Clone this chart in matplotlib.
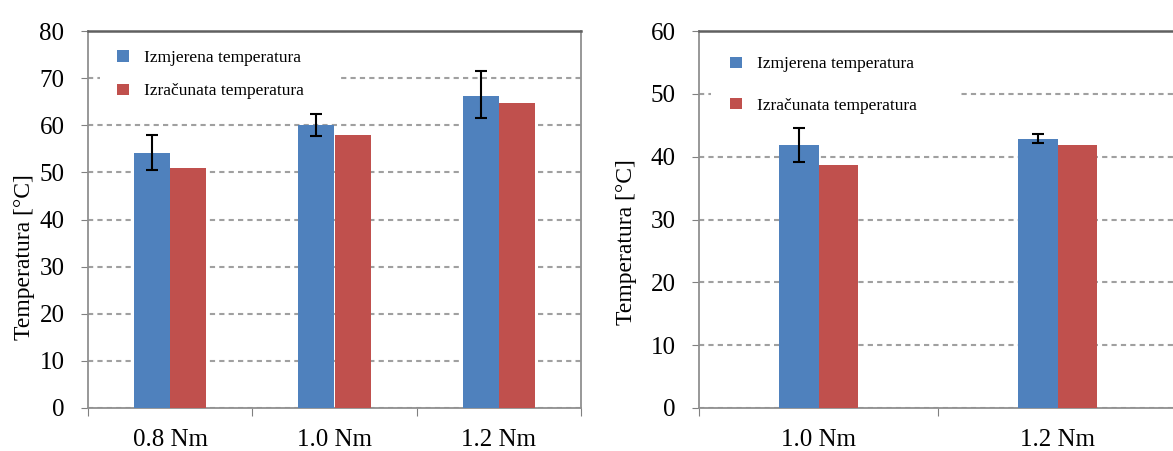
import matplotlib.pyplot as plt
from matplotlib.patches import Rectangle
import numpy as np

# left chart
cats_l = ['0.8 Nm', '1.0 Nm', '1.2 Nm']
meas_l = [54.2, 60.1, 66.2]
err_lo_l = [50.5, 57.8, 61.5]
err_hi_l = [58.0, 62.3, 71.5]
calc_l = [51.0, 58.0, 64.8]

# right chart
cats_r = ['1.0 Nm', '1.2 Nm']
meas_r = [41.8, 42.8]
err_lo_r = [39.1, 42.2]
err_hi_r = [44.5, 43.6]
calc_r = [38.7, 41.9]

lbl_meas = 'Izmjerena temperatura'
lbl_calc = 'Izračunata temperatura'
blue = '#4F81BD'
red = '#C0504D'

plt.rcParams['font.family'] = ['Liberation Serif', 'DejaVu Serif']

fig = plt.figure(figsize=(11.73, 4.51), dpi=100)
ax1 = fig.add_axes([88/1173, 1-408/451, 493/1173, 377/451])
ax2 = fig.add_axes([699/1173, 1-408/451, 478/1173, 377/451])


def draw(ax, cats, meas, lo, hi, calc, ymax, w, leg_xy, lspace, lab_xy, box):
    x = np.arange(len(cats))
    yerr = [np.array(meas) - np.array(lo), np.array(hi) - np.array(meas)]
    ax.bar(x - w/2, meas, w, color=blue, label=lbl_meas, zorder=3)
    ax.bar(x + w/2, calc, w, color=red, label=lbl_calc, zorder=3)
    ax.errorbar(x - w/2, meas, yerr=yerr, fmt='none', ecolor='black',
                elinewidth=1.5, capsize=4, capthick=1.5, zorder=4)
    ax.set_xlim(-0.5, len(cats) - 0.5)
    ax.set_ylim(0, ymax)
    ax.set_yticks(np.arange(0, ymax + 1, 10))
    ax.grid(axis='y', color='#a0a0a0', linestyle=(0, (2.5, 2)), linewidth=1.5, zorder=1)
    ax.set_xticks(np.arange(len(cats) + 1) - 0.5)
    ax.set_xticklabels([])
    ax.set_xticks(x, minor=True)
    ax.set_xticklabels(cats, minor=True, fontsize=18)
    ax.tick_params(axis='x', which='major', length=6, color='#808080', direction='out')
    ax.tick_params(axis='x', which='minor', length=0, pad=15)
    ax.tick_params(axis='y', length=5, color='#808080', labelsize=18, pad=12)
    for s in ax.spines.values():
        s.set_color('#909090')
        s.set_linewidth(1.3)
    ax.spines['top'].set_color('#606060')
    ax.spines['top'].set_linewidth(1.8)
    ax.set_ylabel('Temperatura [°C]', fontsize=17)
    ax.yaxis.set_label_coords(*lab_xy)
    # white area behind the legend hides the grid lines
    ax.add_patch(Rectangle((box[0], box[1]), box[2] - box[0], 0.99 - box[1],
                           transform=ax.transAxes, facecolor='white',
                           edgecolor='none', zorder=2))
    leg = ax.legend(loc='upper left', bbox_to_anchor=leg_xy, frameon=False,
                    fontsize=12.5, handlelength=0.65, handleheight=0.65,
                    labelspacing=lspace, handletextpad=0.9, borderpad=0.6,
                    borderaxespad=0.0)
    leg.set_zorder(5)


draw(ax1, cats_l, meas_l, err_lo_l, err_hi_l, calc_l, 80, 0.22,
     (0.0385, 0.977), 1.0, (-0.108, 0.40), (0.024, 0.80, 0.511))
draw(ax2, cats_r, meas_r, err_lo_r, err_hi_r, calc_r, 60, 0.165,
     (0.044, 0.96), 1.45, (-0.13, 0.44), (0.025, 0.76, 0.542))

fig.savefig('out.png', dpi=100)
